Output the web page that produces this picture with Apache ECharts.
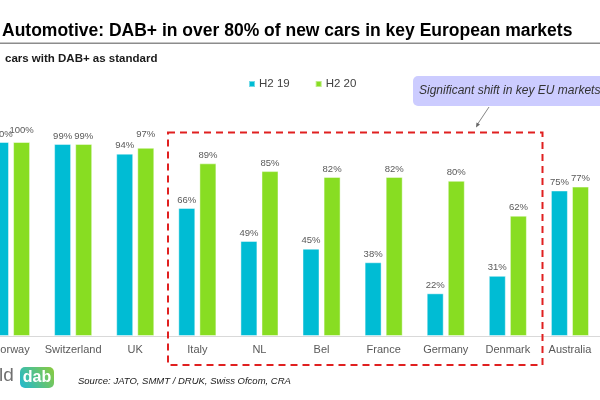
<!DOCTYPE html>
<html>
<head>
<meta charset="utf-8">
<title>DAB+ in new cars</title>
<script src="https://cdn.jsdelivr.net/npm/echarts@6/dist/echarts.min.js"></script>
<style>
  html, body { margin: 0; padding: 0; background: #fff; }
  #chart { width: 600px; height: 400px; }
</style>
</head>
<body>
<div id="chart"></div>
<script>
// markets, left to right (the slide is cropped, so Norway is cut at the edge)
var markets = ['Norway', 'Switzerland', 'UK', 'Italy', 'NL', 'Bel', 'France', 'Germany', 'Denmark', 'Australia']
// % of new cars with DAB+ as standard
var h219 = [100, 99, 94, 66, 49, 45, 38, 22, 31, 75]
var h220 = [100, 99, 97, 89, 85, 82, 82, 80, 62, 77]
var seriesNames = ['H2 19', 'H2 20']

var BLUE = '#00BCD4'
var GREEN = '#88DD22'
var LABEL_GREY = '#595959'
var FONT = 'Arial, Liberation Sans, sans-serif'

var chart = echarts.init(document.getElementById('chart'))

function barSeries (name, values, color, bump) {
  return {
    name: name,
    type: 'bar',
    barWidth: 17,
    barGap: '24%',
    data: values.map(function (v, i) {
      var item = { value: v }
      // a couple of labels sit a bit higher on the slide
      if (bump[i]) item.label = { distance: 3 + bump[i] }
      return item
    }),
    itemStyle: { color: color, borderColor: 'rgba(255,255,255,0.45)', borderWidth: 1 },
    label: {
      show: true,
      position: 'top',
      distance: 3,
      formatter: '{c}%',
      color: LABEL_GREY,
      fontSize: 9.5,
      fontFamily: FONT
    },
    silent: true
  }
}

var option = {
  animation: false,
  textStyle: { fontFamily: FONT },
  legend: {
    data: seriesNames,
    left: 248,
    top: 78,
    padding: 0,
    icon: 'rect',
    itemWidth: 6,
    itemHeight: 6,
    itemGap: 25,
    textStyle: { fontSize: 11.5, color: '#404040', padding: [0, 0, 0, -1] }
  },
  grid: {
    left: -20,
    right: -1,
    top: 142,
    bottom: 64,
    outerBoundsMode: 'none'
  },
  xAxis: {
    type: 'category',
    data: markets,
    axisLine: { lineStyle: { color: '#D9D9D9', width: 1 } },
    axisTick: { show: false },
    axisLabel: { color: LABEL_GREY, fontSize: 11, margin: 8, interval: 0 }
  },
  yAxis: {
    type: 'value',
    min: 0,
    max: 100,
    show: false
  },
  series: [
    barSeries(seriesNames[0], h219, BLUE, {}),
    barSeries(seriesNames[1], h220, GREEN, { 0: 4, 2: 5 })
  ],
  graphic: [
    {
      type: 'text', left: 2, top: 22,
      style: {
        text: 'Automotive: DAB+ in over 80% of new cars in key European markets',
        fontSize: 17.5, fontWeight: 'bold', fill: '#000', fontFamily: FONT
      }
    },
    {
      type: 'rect', shape: { x: 0, y: 42.5, width: 600, height: 1.5 },
      style: { fill: '#8C8C8C' }
    },
    {
      type: 'text', left: 5, top: 53,
      style: {
        text: 'cars with DAB+ as standard',
        fontSize: 11.5, fontWeight: 'bold', fill: '#1A1A1A', fontFamily: FONT
      }
    },
    // callout
    {
      type: 'rect', shape: { x: 413, y: 76, width: 200, height: 30, r: 5 },
      style: { fill: '#CCCCFF' }
    },
    {
      type: 'text', x: 419, y: 91,
      style: {
        text: 'Significant shift in key EU markets',
        fontSize: 12, fontStyle: 'italic', fill: '#333',
        verticalAlign: 'middle', fontFamily: FONT
      }
    },
    {
      type: 'line', shape: { x1: 489, y1: 107, x2: 477, y2: 125 },
      style: { stroke: '#666', lineWidth: 0.8 }
    },
    {
      type: 'polygon', shape: { points: [[476, 127.5], [480, 124.5], [476.5, 122.5]] },
      style: { fill: '#666' }
    },
    // dashed box round the EU markets
    {
      type: 'rect', shape: { x: 168, y: 132.5, width: 374.5, height: 232.5 },
      style: { fill: 'none', stroke: '#E02020', lineWidth: 2, lineDash: [7, 5] },
      z: 10
    },
    // logo
    {
      type: 'text', left: -1, top: 366,
      style: { text: 'ld', fontSize: 19, fill: '#707070', fontFamily: FONT }
    },
    {
      type: 'rect', shape: { x: 20, y: 367, width: 34, height: 21, r: 5 },
      style: {
        fill: new echarts.graphic.LinearGradient(0, 1, 1, 0, [
          { offset: 0, color: '#1FB8D2' },
          { offset: 1, color: '#8CCB3C' }
        ])
      }
    },
    {
      type: 'text', x: 37, y: 377.5,
      style: {
        text: 'dab', fontSize: 16, fontWeight: 'bold', fill: '#fff',
        align: 'center', verticalAlign: 'middle', fontFamily: FONT
      }
    },
    {
      type: 'text', x: 78, y: 381,
      style: {
        text: 'Source: JATO, SMMT / DRUK, Swiss Ofcom, CRA',
        fontSize: 9.5, fontStyle: 'italic', fill: '#1A1A1A',
        verticalAlign: 'middle', fontFamily: FONT
      }
    }
  ]
}

chart.setOption(option)
window.addEventListener('resize', function () { chart.resize() })
</script>
</body>
</html>
